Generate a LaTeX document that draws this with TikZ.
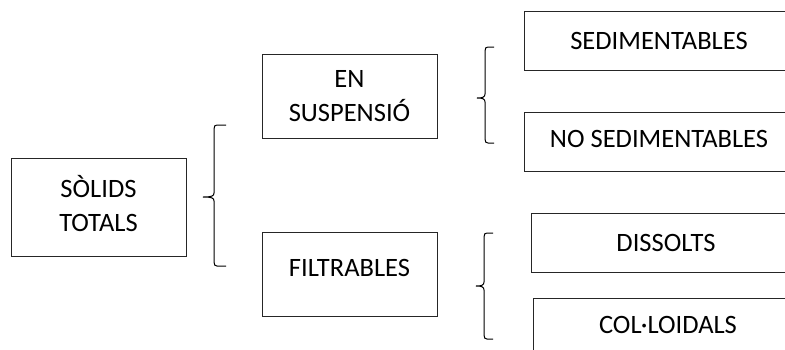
\documentclass[tikz,border=0pt]{standalone}
\usepackage{fontspec}
\setmainfont{Carlito}
\usetikzlibrary{positioning}
\tikzstyle{block} = [rectangle, draw=black!85, line width=1pt, text centered, align=center, inner sep=0pt, minimum width=175pt, minimum height=84pt, font=\fontsize{26.5}{34}\selectfont]
\tikzstyle{leaf} = [block, minimum width=270pt, minimum height=59pt]
\tikzstyle{brack} = [line width=1pt, black]
% left bracket: stem x, top y, tip y, bottom y, width
\newcommand{\curlybrack}[5]{%
	\draw[brack] (#1+#5,#2) -- (#1+3,#2) .. controls (#1+1,#2) and (#1,#2+1) .. (#1,#2+4)
		-- (#1,#3-4) .. controls (#1,#3-1) and (#1-2,#3) .. (#1-#5+1,#3)
		.. controls (#1-2,#3) and (#1,#3+1) .. (#1,#3+4)
		-- (#1,#4-4) .. controls (#1,#4-1) and (#1+1,#4) .. (#1+3,#4) -- (#1+#5,#4);}

\begin{document}
\begin{tikzpicture}[x=1pt, y=-1pt]
	\path[use as bounding box] (0,0) rectangle (785,349);

	% Total solids
	\node (solids) [block, minimum height=98pt, text depth=7pt] at (98.5,207) {SÒLIDS\\TOTALS};

	% Two families
	\node (suspensio) [block, above right=19pt and 75pt of solids, text depth=-12pt] {EN\\SUSPENSIÓ};
	\node (filtrables) [block, below=93pt of suspensio, text depth=12pt] {FILTRABLES};

	% Leaves
	\node (sedim) [leaf, text depth=-4pt] at (659,40.5) {SEDIMENTABLES};
	\node (nosedim) [leaf, below=41pt of sedim, text depth=6pt] {NO SEDIMENTABLES};
	\node (dissolts) [leaf] at (666,242.5) {DISSOLTS};
	\node (colloidals) [leaf, below=25pt of dissolts, xshift=2pt, text depth=6pt] {COL·LOIDALS};

	% Brackets
	\curlybrack{214}{125}{197}{266}{12}
	\curlybrack{485}{47}{98}{143}{9}
	\curlybrack{484}{233}{286}{339}{9}

\end{tikzpicture}
\end{document}
